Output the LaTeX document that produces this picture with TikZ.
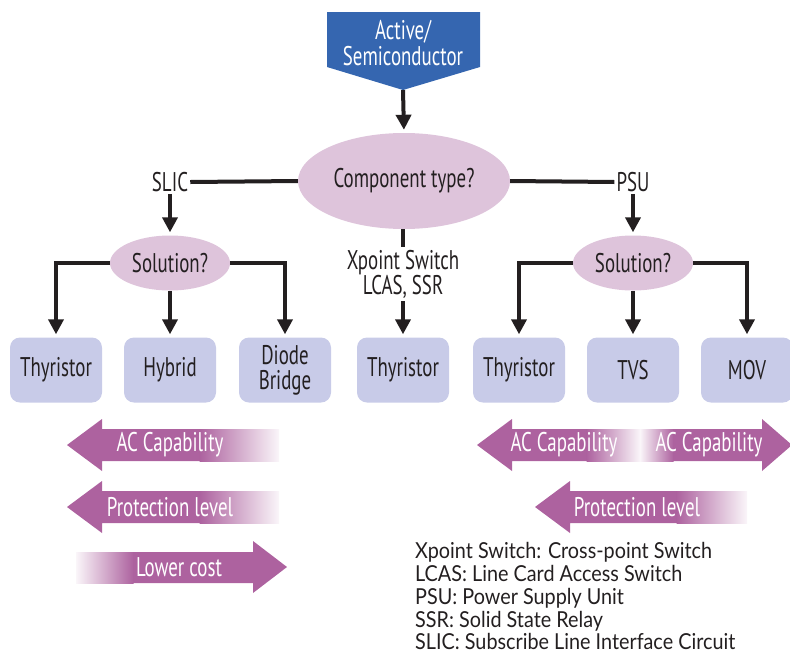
\documentclass[tikz,border=0pt]{standalone}
\usepackage{fontspec}
\setmainfont{PT Sans}
\newfontfamily\condf[FakeStretch=0.7]{PT Sans}
\newfontfamily\legf[FakeStretch=0.9]{Lato}
\usetikzlibrary{arrows.meta,shapes.geometric}
\definecolor{topblue}{HTML}{3566B0}
\definecolor{ellc}{HTML}{DEC4DB}
\definecolor{boxc}{HTML}{C8CBE8}
\definecolor{arrc}{HTML}{AD629F}
\definecolor{txt}{HTML}{231F20}
\begin{document}
\begin{tikzpicture}[x=1pt,y=-1pt,
  lbl/.style={font=\condf\fontsize{27}{25}\selectfont, text=txt, inner sep=2pt},
  ell/.style={ellipse, fill=ellc, inner sep=0pt, lbl},
  boxn/.style={rounded corners=10pt, fill=boxc, minimum width=92pt, minimum height=65pt, lbl, align=center, inner sep=0pt},
  conn/.style={line width=4pt, draw=txt},
  arr/.style={conn, -{Triangle[width=15pt,length=15pt]}, shorten >=3pt},
  bartext/.style={font=\condf\fontsize{27}{26}\selectfont, text=white, inner sep=0pt},
  legtext/.style={font=\legf\fontsize{22}{23}\selectfont, text=txt, anchor=base west, inner sep=0pt, text depth=0pt}
]
\useasboundingbox (0,0) rectangle (790,654);

% top pentagon
\fill[topblue] (327,12) -- (480,12) -- (480,67) -- (403,90) -- (327,67) -- cycle;
\node[bartext, align=center] (top) at (403,43) {Active/\\Semiconductor};
\coordinate (toptip) at (403,90);

% main decision
\node[ell, minimum width=212pt, minimum height=96pt] (ct) at (404,181) {Component type?};
\draw[arr] (toptip) -- (ct.north);

\node[lbl] (slic) at (170,182) {SLIC};
\node[lbl] (psu) at (633,182) {PSU};
\draw[conn] (slic.east) -- (ct.west);
\draw[conn] (ct.east) -- (psu.west);

\node[ell, minimum width=120pt, minimum height=55pt] (sl) at (170,263) {Solution?};
\node[ell, minimum width=120pt, minimum height=55pt] (sr) at (633,263) {Solution?};
\draw[arr] (slic.south) -- (sl.north);
\draw[arr] (psu.south) -- (sr.north);

% boxes
\node[boxn] (b1) at (56,370) {Thyristor};
\node[boxn] (b2) at (170,370) {Hybrid};
\node[boxn] (b3) at (285,370) {Diode\\Bridge};
\node[boxn] (b4) at (403,370) {Thyristor};
\node[boxn] (b5) at (519,370) {Thyristor};
\node[boxn] (b6) at (633,370) {TVS};
\node[boxn] (b7) at (747,370) {MOV};

\draw[arr] (sl.west) -| (b1.north);
\draw[arr] (sl.south) -- (b2.north);
\draw[arr] (sl.east) -| (b3.north);
\draw[arr] (sr.west) -| (b5.north);
\draw[arr] (sr.south) -- (b6.north);
\draw[arr] (sr.east) -| (b7.north);

\node[lbl, align=center, inner sep=3pt] (xp) at (403,274) {Xpoint Switch\\LCAS, SSR};
\draw[conn] (ct.south -| xp.north) -- (xp.north);
\draw[arr] (xp.south) -- (b4.north);

% left bars
\fill[arrc] (67,445) -- (102,419) -- (102,429) -- (200,429) -- (200,461) -- (102,461) -- (102,471) -- cycle;
\shade[left color=arrc, right color=arrc!6] (199.5,429) rectangle (279,461);
\node[bartext] (acl) at (170,445) {AC Capability};

\fill[arrc] (67,507) -- (102,481) -- (102,491) -- (200,491) -- (200,523) -- (102,523) -- (102,533) -- cycle;
\shade[left color=arrc, right color=arrc!6] (199.5,491) rectangle (279,523);
\node[bartext] (pll) at (170,507) {Protection level};

\shade[left color=arrc!6, right color=arrc] (76,552) rectangle (133.5,583);
\fill[arrc] (133,552) -- (253,552) -- (253,541) -- (287,567) -- (253,593) -- (253,583) -- (133,583) -- cycle;
\node[bartext] (lc) at (179,567) {Lower cost};

% right bars
\fill[arrc] (477,445) -- (512,419) -- (512,429) -- (587,429) -- (587,461) -- (512,461) -- (512,471) -- cycle;
\shade[left color=arrc, right color=arrc!6] (586.5,429) rectangle (640,461);
\node[bartext] (acr1) at (564,445) {AC Capability};

\shade[left color=arrc!6, right color=arrc] (640,429) rectangle (673.5,461);
\fill[arrc] (673,429) -- (762,429) -- (762,419) -- (792,445) -- (762,471) -- (762,461) -- (673,461) -- cycle;
\node[bartext] (acr2) at (709,445) {AC Capability};

\fill[arrc] (535,507) -- (570,481) -- (570,491) -- (677,491) -- (677,523) -- (570,523) -- (570,533) -- cycle;
\shade[left color=arrc, right color=arrc!6] (676.5,491) rectangle (747,523);
\node[bartext] (plr) at (637,507) {Protection level};

% legend
\node[legtext] (lg1) at (415,558) {Xpoint Switch: Cross-point Switch};
\node[legtext] (lg2) at (415,581) {LCAS: Line Card Access Switch};
\node[legtext] (lg3) at (415,604) {PSU: Power Supply Unit};
\node[legtext] (lg4) at (415,627) {SSR: Solid State Relay};
\node[legtext] (lg5) at (415,649) {SLIC: Subscribe Line Interface Circuit};
\end{tikzpicture}
\end{document}
